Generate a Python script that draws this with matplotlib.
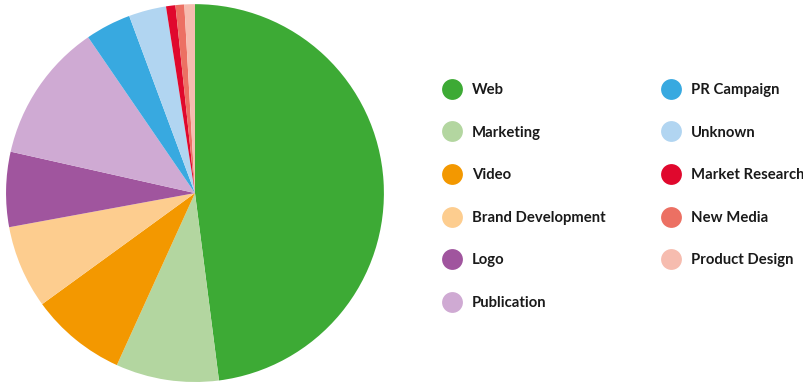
import matplotlib
matplotlib.use("Agg")
import matplotlib.pyplot as plt
from matplotlib.lines import Line2D

# --- project categories and share of work (%) ---
categorias = ["Web", "Marketing", "Video", "Brand Development", "Logo", "Publication",
              "PR Campaign", "Unknown", "Market Research", "New Media", "Product Design"]
valores = [47.9, 8.8, 8.2, 7.1, 6.4, 11.9, 3.9, 3.2, 0.8, 0.75, 0.9]
colores = ["#3daa35", "#b3d6a0", "#f39800", "#fdcd8f", "#a0559e", "#cfaad3",
           "#38a9e0", "#b1d5f1", "#e0082d", "#ec7063", "#f6bcaf"]

plt.rcParams["font.family"] = ["Lato", "DejaVu Sans"]

fig = plt.figure(figsize=(8.04, 3.84), dpi=100)
ax = fig.add_axes([0.00746, 0.0052, 0.4701, 0.984])
ax.pie(valores, colors=colores, startangle=90, counterclock=False, radius=1,
       wedgeprops=dict(linewidth=0))
ax.set_xlim(-1, 1)
ax.set_ylim(-1, 1)
ax.set_aspect("equal")
ax.axis("off")

# leyenda en dos columnas con marcadores circulares
handles = [Line2D([], [], marker="o", linestyle="none", markersize=15,
                  markerfacecolor=c, markeredgewidth=0) for c in colores]
fig.legend(handles, categorias, loc="upper left", bbox_to_anchor=(441.6 / 804, 1 - 83 / 384),
           ncol=2, frameon=False, handlelength=1.4, handletextpad=0.62,
           columnspacing=3.75, labelspacing=1.925, borderpad=0, borderaxespad=0,
           prop=dict(weight="bold", size=10.7), labelcolor="#1a1a1a")

fig.savefig("out.png", dpi=100)
